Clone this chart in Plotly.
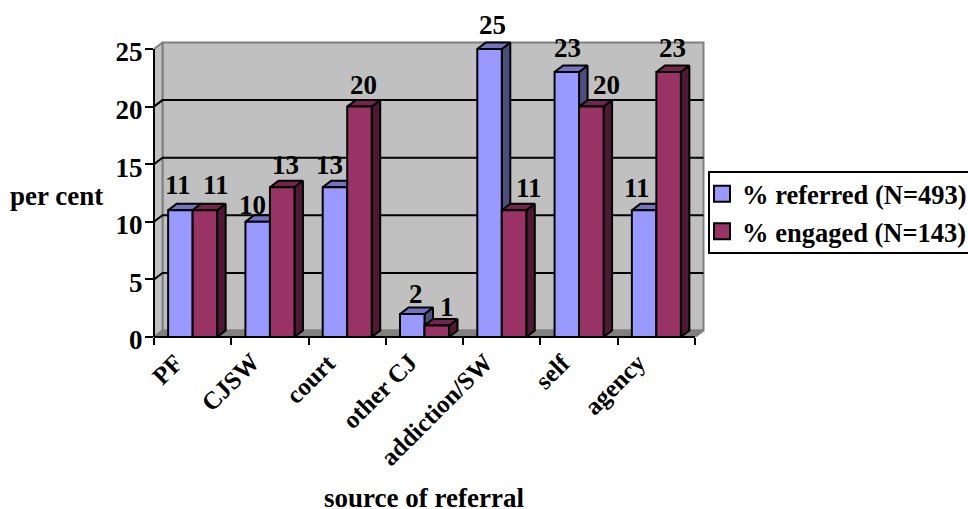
import plotly.graph_objects as go

categories = ["PF", "CJSW", "court", "other CJ", "addiction/SW", "self", "agency"]
referred = [11, 10, 13, 2, 25, 23, 11]
engaged = [11, 13, 20, 1, 11, 20, 23]
y_ticks = [0, 5, 10, 15, 20, 25]
series_names = ["% referred (N=493)", "% engaged (N=143)"]

FONT = "Liberation Serif"
W, H = 968, 509
L, R, T, B = 154, 695, 49, 337       # pixel box of the 0-25 / 7-category front plane
PR, PT = 706, 41                     # pixel limits of the extended plot area
PX_X = (R - L) / 7
PX_Y = (B - T) / 25
DX, DY = 8.5 / PX_X, 6.5 / PX_Y
BAR_W = 24.5 / PX_X
BLUE, BLUE_TOP, BLUE_SIDE = "#9999FF", "#7373BF", "#4D4D80"
RED, RED_TOP, RED_SIDE = "#993366", "#73264D", "#4D1933"

# per-label pixel nudges (style only)
shift_x_ref = [-2, -5, -5, 4, 3, 1, -7]
shift_x_eng = [11, 3, 4, 10, 15, 15, 4]
shift_y_ref = [25, 17, 22, 20, 24, 24, 22]
shift_y_eng = [25, 22, 22, 18, 22, 22, 24]
cat_shift = [-2, -3, -3, 0, -1, -1, -3]


def px(x):
    return (x - L) / (PR - L)


def py(y):
    return (B - y) / (B - PT)


def poly(fn, name, color, z, lc="black", lw=2):
    xs, ys = fn
    return go.Scatter(x=xs, y=ys, mode="lines", fill="toself", fillcolor=color,
                      line=dict(color=lc, width=lw), cliponaxis=False,
                      showlegend=False, hoverinfo="skip", zorder=z, name=name)


def faces(values, offset):
    sx, sy, tx, ty = [], [], [], []
    for i, v in enumerate(values):
        a = i + offset
        b = a + BAR_W
        sx += [b, b + DX, b + DX, b, b, None]
        sy += [0, DY, v + DY, v, 0, None]
        tx += [a, a + DX, b + DX, b, a, None]
        ty += [v, v + DY, v + DY, v, v, None]
    return (sx, sy), (tx, ty)


fig = go.Figure()
x0, x1, y1 = -0.5, 6.5, 25
# walls and floor
fig.add_trace(poly(([x0 + DX, x1 + DX, x1 + DX, x0 + DX, x0 + DX], [DY, DY, y1 + DY, y1 + DY, DY]),
                   "back wall", "#C0C0C0", 0, "#808080", 2))
fig.add_trace(poly(([x0, x0 + DX, x0 + DX, x0, x0], [0, DY, y1 + DY, y1, 0]),
                   "side wall", "#C0C0C0", 0, "#808080", 2))
fig.add_trace(poly(([x0, x0 + DX, x1 + DX, x1, x0], [0, DY, DY, 0, 0]),
                   "floor", "#808080", 0, "#808080", 2))
# gridlines
gx, gy = [], []
for t in y_ticks[1:-1]:
    gx += [x0, x0 + DX, x1 + DX, None]
    gy += [t, t + DY, t + DY, None]
fig.add_trace(go.Scatter(x=gx, y=gy, mode="lines", line=dict(color="black", width=2),
                         cliponaxis=False, showlegend=False, hoverinfo="skip", zorder=0))

(bsx, bsy), (btx, bty) = faces(referred, -BAR_W)
(rsx, rsy), (rtx, rty) = faces(engaged, 0)
fig.add_trace(poly((bsx, bsy), "ref side", BLUE_SIDE, 1))
fig.add_trace(poly((btx, bty), "ref top", BLUE_TOP, 1))
fig.add_trace(go.Bar(x=list(range(7)), y=referred, width=BAR_W, offset=-BAR_W, name=series_names[0],
                     marker=dict(color=BLUE, line=dict(color="black", width=2)),
                     showlegend=False, cliponaxis=False, zorder=2))
fig.add_trace(poly((rsx, rsy), "eng side", RED_SIDE, 3))
fig.add_trace(poly((rtx, rty), "eng top", RED_TOP, 3))
fig.add_trace(go.Bar(x=list(range(7)), y=engaged, width=BAR_W, offset=0, name=series_names[1],
                     marker=dict(color=RED, line=dict(color="black", width=2)),
                     showlegend=False, cliponaxis=False, zorder=4))
# legend entries
for nm, c in zip(series_names, [BLUE, RED]):
    fig.add_trace(go.Scatter(x=[None], y=[None], mode="markers", name=nm, legendgroup=nm,
                             marker=dict(symbol="square", size=16, color=c, line=dict(color="black", width=2))))

ann = []
lab = dict(family=FONT, size=27, color="black", weight="bold")
cat_font = dict(family=FONT, size=25, color="black", weight="bold")
for i in range(7):
    ann.append(dict(x=i - BAR_W / 2, y=referred[i], text=str(referred[i]), showarrow=False,
                    xshift=shift_x_ref[i], yshift=shift_y_ref[i], font=lab))
    ann.append(dict(x=i + BAR_W / 2, y=engaged[i], text=str(engaged[i]), showarrow=False,
                    xshift=shift_x_eng[i], yshift=shift_y_eng[i], font=lab))
    ann.append(dict(x=i, y=0, text=categories[i], showarrow=False, textangle=-45, xanchor="right",
                    yanchor="top", xshift=cat_shift[i], yshift=-9, font=cat_font))
ann[0:0] = [
    dict(xref="paper", yref="paper", x=px(56), y=py(196), text="per cent", showarrow=False, font=lab,
         xanchor="center", yanchor="middle"),
    dict(xref="paper", yref="paper", x=px(424), y=py(498), text="source of referral", showarrow=False, font=lab,
         xanchor="center", yanchor="middle"),
]

fig.update_layout(
    width=W, height=H, paper_bgcolor="white", plot_bgcolor="rgba(0,0,0,0)",
    margin=dict(l=L, r=W - PR, t=PT, b=H - B, pad=0, autoexpand=False),
    font=dict(family=FONT, color="black"),
    xaxis=dict(range=[x0, x0 + (PR - L) / PX_X], tickmode="array", tickvals=[i - 0.5 for i in range(8)],
               ticktext=[""] * 8, ticks="outside", ticklen=7, tickwidth=2, tickcolor="black",
               showline=False, showgrid=False, zeroline=False),
    yaxis=dict(range=[0, (B - PT) / PX_Y], tickmode="array", tickvals=y_ticks, ticks="outside", ticklen=8,
               tickwidth=2, tickcolor="black", showline=False, showgrid=False, zeroline=False,
               tickfont=lab, ticklabelshift=3, ticklabelstandoff=-3),
    legend=dict(xref="paper", yref="paper", x=px(702), y=py(170),
                xanchor="left", yanchor="top", bgcolor="rgba(0,0,0,0)", borderwidth=0,
                font=dict(family=FONT, size=26.5, color="black", weight="bold"),
                traceorder="grouped", tracegroupgap=0, itemclick=False),
    shapes=[
        dict(type="rect", xref="paper", yref="paper", x0=px(709), x1=px(985), y0=py(172), y1=py(253),
             line=dict(color="black", width=2), fillcolor="white", layer="below"),
        dict(type="line", xref="paper", yref="y", x0=0, x1=0, y0=0, y1=y_ticks[-1],
             line=dict(color="black", width=2), layer="above"),
        dict(type="line", xref="x", yref="paper", x0=x0, x1=x1, y0=0, y1=0,
             line=dict(color="black", width=2), layer="above"),
    ],
    annotations=ann, showlegend=True,
)
fig.write_html("out.html", config={"displayModeBar": False},
               post_script="document.body.style.margin='0';document.body.style.overflow='hidden';")
